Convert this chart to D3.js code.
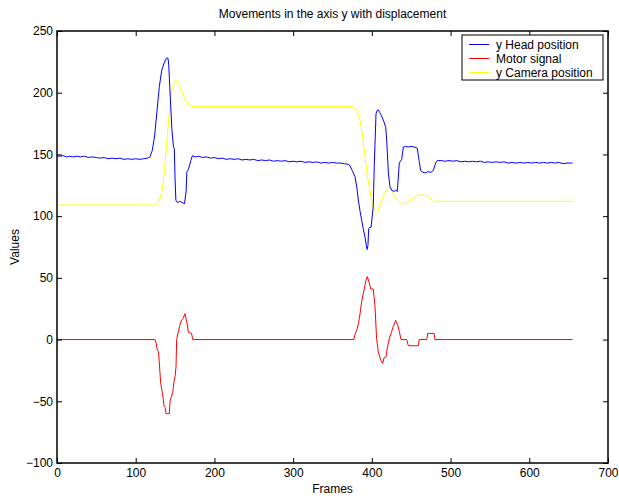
<!DOCTYPE html>
<html>
<head>
<meta charset="utf-8">
<script src="https://cdn.jsdelivr.net/npm/d3@7"></script>
<style>
  body { margin: 0; background: #fff; }
  svg { display: block; font-family: "Liberation Sans", Arial, Helvetica, sans-serif; }
</style>
</head>
<body>
<svg id="chart" width="619" height="500"></svg>
<script>
// ===== Movements in the axis y with displacement =====

const xTicks = [0, 100, 200, 300, 400, 500, 600, 700];
const yTicks = [-100, -50, 0, 50, 100, 150, 200, 250];

const seriesNames = ['y Head position', 'Motor signal', 'y Camera position'];

// [frame, value]
const headPosition = [
    [0, 149], [4, 148.5], [8, 149], [12, 148], [16, 148.5], [20, 148], [25, 148.5], [30, 148],
    [35, 148.5], [40, 147.5], [45, 148], [50, 147.5], [55, 147], [60, 147.5], [65, 146.5],
    [70, 147], [75, 146.5], [80, 147], [85, 146], [90, 146.5], [95, 146], [100, 146.5],
    [105, 146], [110, 146.5], [115, 147], [118, 148], [121, 153], [124, 165], [127, 185],
    [130, 205], [133, 218], [136, 224], [139, 228], [141, 228], [142, 222], [144, 195],
    [146, 170], [148, 156], [149, 155], [150, 130], [151, 113], [153, 111], [156, 112],
    [159, 111], [162, 110], [164, 120], [165, 136], [167, 138], [170, 145], [172, 149],
    [176, 148], [180, 148.5], [185, 147.5], [190, 148], [195, 147], [200, 147.5], [205, 146.5],
    [210, 147], [215, 146], [220, 146.5], [225, 146], [230, 146.5], [235, 145.5], [240, 146],
    [245, 145.5], [250, 146], [255, 145], [260, 145.5], [265, 145], [270, 145.5], [275, 144.5],
    [280, 145], [285, 144.5], [290, 145], [295, 144], [300, 144.5], [305, 144], [310, 144.5],
    [315, 143.5], [320, 144], [325, 143.5], [330, 144], [335, 143], [340, 143.5], [345, 143],
    [350, 143.5], [355, 143], [360, 143], [365, 142.5], [370, 142], [372, 141], [375, 137],
    [378.6, 132], [381, 123], [382.8, 113], [385, 104], [387, 97], [389, 90], [391.3, 83],
    [393, 76], [394, 73], [395, 76], [396, 90], [397.6, 91], [399, 91], [400, 97],
    [401.8, 108], [403, 140], [405.3, 183], [407, 186], [408.2, 186], [410, 184],
    [412.5, 181], [415, 177], [417.6, 172], [419, 160], [421, 135], [423, 124], [425.2, 121],
    [428, 120], [430, 121], [432.3, 120], [434, 135], [434.8, 143], [437.9, 146], [440, 156],
    [443, 156.5], [446, 156], [450, 156.5], [454, 156], [457.7, 155], [460, 145], [462, 137],
    [465, 135.5], [468, 135], [471, 136], [475, 135.5], [478, 137], [481, 143], [483, 145],
    [488, 145], [493, 144.5], [498, 145], [503, 144.5], [508, 145], [513, 144], [518, 144.5],
    [523, 144], [528, 144.5], [533, 144], [538, 144.5], [543, 143.5], [548, 144], [553, 143.5],
    [558, 144], [563, 143.5], [568, 144], [573, 143], [578, 143.5], [583, 143], [588, 143.5],
    [593, 143], [598, 143.5], [603, 143], [608, 143.5], [613, 143], [618, 143.5], [623, 143],
    [628, 143.5], [633, 143], [638, 143.5], [643, 142.5], [648, 143], [655, 143]
];

const motorSignal = [
    [0, 0], [124.5, 0], [126, -3], [127.4, -8.5], [129, -10], [130, -19], [131.7, -35],
    [133, -40], [134.3, -45], [136, -54], [137.5, -55], [138.5, -60], [142.7, -60],
    [143.6, -50], [145, -47], [147, -43], [148.6, -34], [150, -30], [151.2, -22], [152, 0],
    [154, 6], [156.3, 12], [158.4, 16], [160, 17], [162.6, 21], [164.8, 14], [166, 11],
    [166.8, 6], [171, 5], [172.4, 0], [377, 0], [379, 5], [381, 8], [383, 13], [385, 21],
    [387, 30.7], [390, 40], [392.5, 48], [394.2, 51], [396.7, 46], [398.5, 41], [401.8, 41],
    [404, 27], [406, 1], [408.2, -10], [411.2, -16.6], [413.8, -19.4], [415.4, -15],
    [418, -14], [419.6, -7], [422.2, 1], [425.2, 6.6], [427.2, 10.7], [430.3, 15.6],
    [432.8, 12], [434.9, 6.6], [437, 0], [444.3, 0], [446.3, -5], [459, -5], [460.2, 0],
    [469.7, 0], [471, 5], [479, 5], [480.2, 0], [655, 0]
];

const cameraPosition = [
    [0, 109], [124, 109], [127, 110], [130, 113], [133, 119], [135, 128], [137, 140],
    [139, 156], [141.4, 175], [143.6, 190], [145.7, 202], [148, 207], [150, 209.5], [152, 210],
    [155, 207], [158, 202], [160.4, 198], [163, 194], [166, 191], [169, 189.5], [172, 189],
    [376, 189], [380, 186], [383, 182], [385, 178], [388, 166], [391.3, 148], [394, 134],
    [397.6, 121], [400, 112], [401.8, 107], [403.5, 104], [405.3, 102.5], [407, 103],
    [410, 108], [414, 115], [418, 121], [421, 123.5], [424, 122], [428, 117], [432, 113],
    [436, 111], [440, 110], [444, 110.5], [448, 112], [452, 114.5], [457, 116.5], [461, 117],
    [468.8, 117], [472, 115.5], [476, 113.5], [480, 112], [655, 112]
];

const colors = ['#0000ff', '#ff0000', '#ffff00'];

const margin = { top: 31, right: 11, bottom: 37, left: 57 };
const width = 619 - margin.left - margin.right;
const height = 500 - margin.top - margin.bottom;

const svg = d3.select('#chart');
const g = svg.append('g').attr('transform', `translate(${margin.left},${margin.top})`);

const x = d3.scaleLinear().domain([0, 700]).range([0, width]);
const y = d3.scaleLinear().domain([-100, 250]).range([height, 0]);

const fmt = d => String(d).replace('-', '\u2212');

// Lines (camera first, then motor, then head on top)
const line = d3.line().x(d => x(d[0])).y(d => y(d[1]));
[[cameraPosition, colors[2]], [motorSignal, colors[1]], [headPosition, colors[0]]].forEach(([data, c]) => {
    g.append('path')
        .datum(data)
        .attr('fill', 'none')
        .attr('stroke', c)
        .attr('stroke-width', 1)
        .attr('d', line);
});

// Axes with inward ticks, MATLAB style
const styleAxis = sel => {
    sel.select('.domain').remove();
    sel.selectAll('line').attr('stroke', '#000');
    sel.selectAll('text').attr('fill', '#000').attr('font-size', 12)
        .attr('font-family', '"Liberation Sans", Arial, sans-serif');
};

g.append('g').attr('transform', `translate(0,${height})`)
    .call(d3.axisBottom(x).tickValues(xTicks).tickSize(-5).tickPadding(5).tickFormat(fmt))
    .call(styleAxis);
g.append('g')
    .call(d3.axisTop(x).tickValues(xTicks).tickSize(-5).tickFormat(''))
    .call(styleAxis);
g.append('g')
    .call(d3.axisLeft(y).tickValues(yTicks).tickSize(-5).tickPadding(4).tickFormat(fmt))
    .call(styleAxis);
g.append('g').attr('transform', `translate(${width},0)`)
    .call(d3.axisRight(y).tickValues(yTicks).tickSize(-5).tickFormat(''))
    .call(styleAxis);

g.append('rect')
    .attr('width', width).attr('height', height)
    .attr('fill', 'none').attr('stroke', '#000').attr('stroke-width', 1.5);

// Title and axis labels
svg.append('text')
    .attr('x', margin.left + width / 2).attr('y', 18)
    .attr('text-anchor', 'middle').attr('font-size', 12)
    .text('Movements in the axis y with displacement');

svg.append('text')
    .attr('x', margin.left + width / 2).attr('y', 493)
    .attr('text-anchor', 'middle').attr('font-size', 12)
    .text('Frames');

svg.append('text')
    .attr('transform', `translate(19,${margin.top + height / 2}) rotate(-90)`)
    .attr('text-anchor', 'middle').attr('font-size', 12)
    .text('Values');

// Legend
const legend = svg.append('g').attr('transform', 'translate(462,35)');
legend.append('rect')
    .attr('width', 141).attr('height', 45)
    .attr('fill', '#fff').attr('stroke', '#000').attr('stroke-width', 1);

seriesNames.forEach((name, i) => {
    const ly = 9.5 + i * 14;
    legend.append('line')
        .attr('x1', 7).attr('x2', 27).attr('y1', ly).attr('y2', ly)
        .attr('stroke', colors[i]).attr('stroke-width', 1);
    legend.append('text')
        .attr('x', 34).attr('y', ly).attr('dy', '0.35em')
        .attr('font-size', 12)
        .text(name);
});
</script>
</body>
</html>
